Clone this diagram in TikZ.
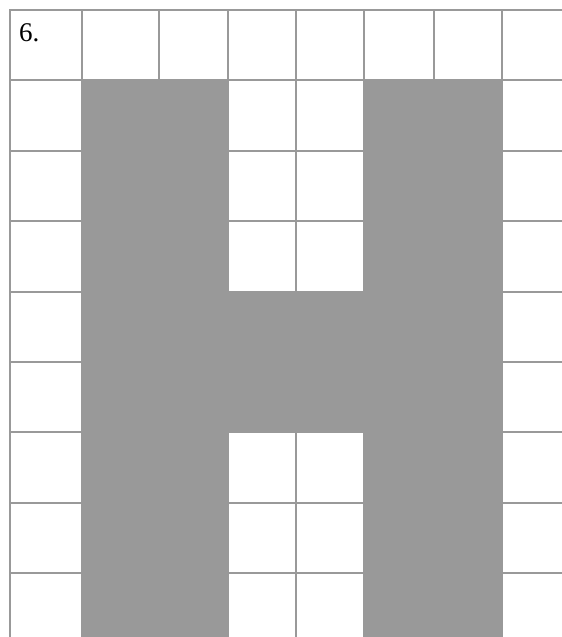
\documentclass[tikz,border=0pt]{standalone}
\usepackage{fontspec}
\setmainfont{Liberation Serif}
\usepackage{xcolor}
\definecolor{gridgray}{HTML}{999999}

\begin{document}
\begin{tikzpicture}[
    x=1pt, y=-1pt,
    gridline/.style={draw=gridgray, line width=2pt},
    letterfill/.style={fill=gridgray},
    numlabel/.style={anchor=base west, inner sep=0pt, font=\fontsize{27}{30}\selectfont}
]
\useasboundingbox (0,0) rectangle (562,637);

% grid
\foreach \y in {10,80,151,221,292,362,432,503,573}
    \draw[gridline] (9,\y) -- (562,\y);
\foreach \x in {10,82,159,228,296,364,434,502}
    \draw[gridline] (\x,9) -- (\x,637);

% the letter H
\fill[letterfill] (82,80) rectangle (228,637);
\fill[letterfill] (364,80) rectangle (502,637);
\fill[letterfill] (228,292) rectangle (364,432);

\node[numlabel] (num) at (19,41) {6.};
\end{tikzpicture}
\end{document}
